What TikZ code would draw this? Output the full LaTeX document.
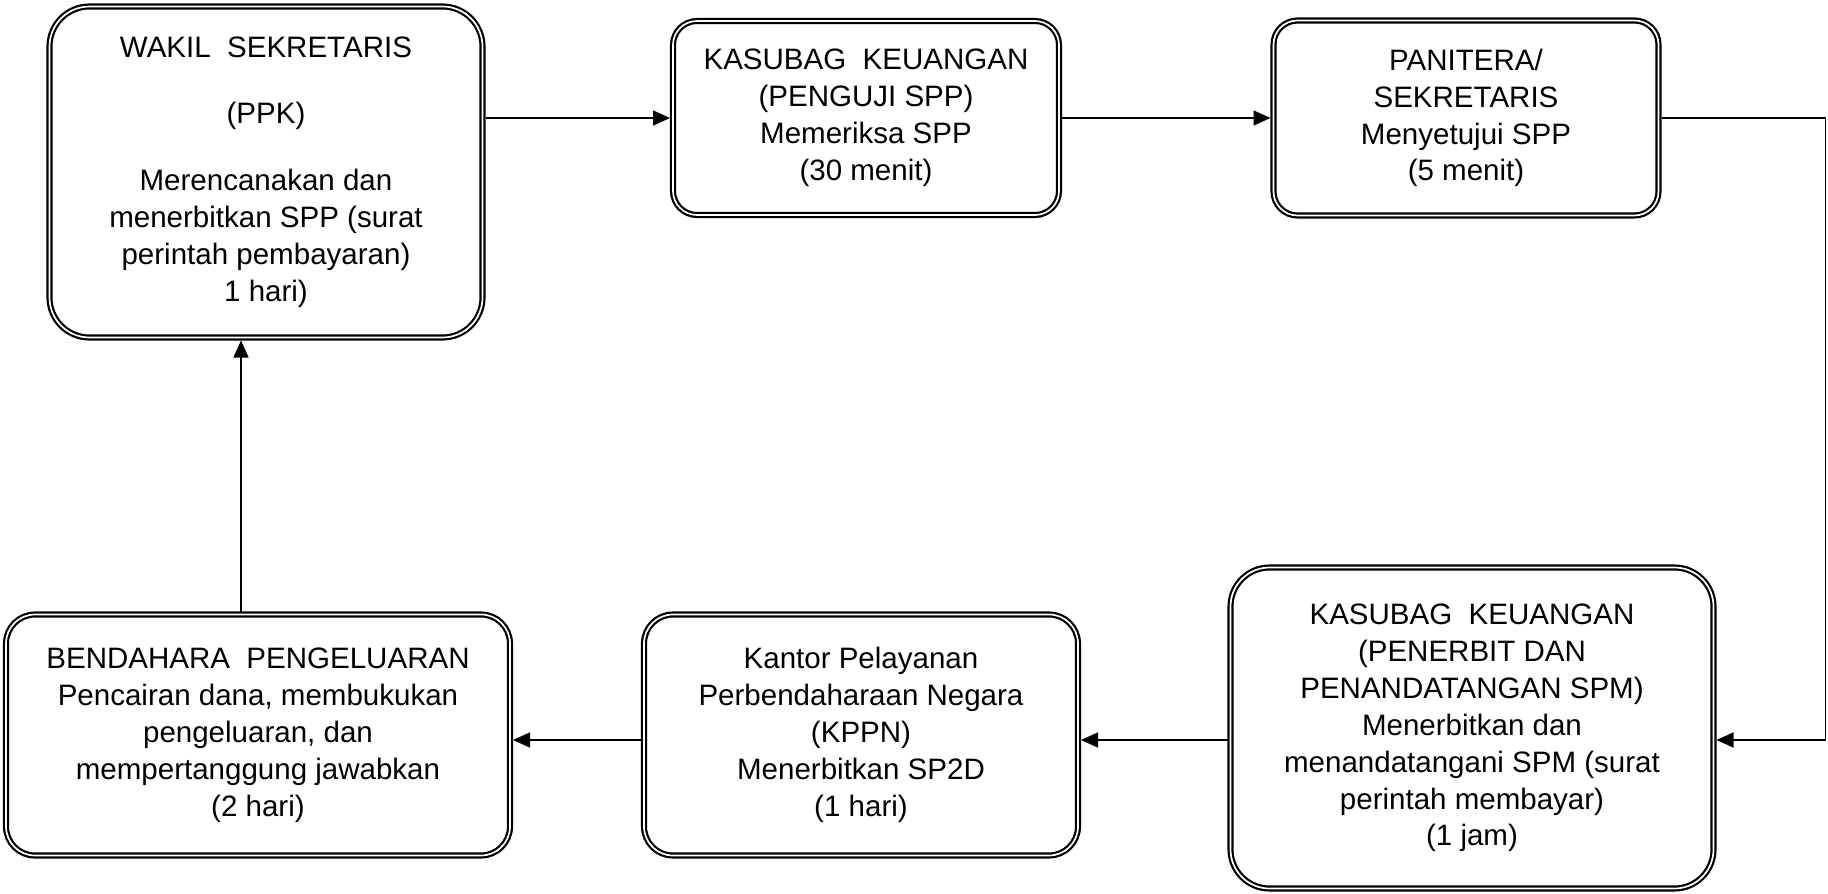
\documentclass[tikz,border=0pt]{standalone}
\usepackage{fontspec}
\setmainfont{Liberation Sans}
\usetikzlibrary{arrows.meta}

\begin{document}
\begin{tikzpicture}[
    x=0.1mm, y=-0.1mm,
    stage/.style={draw, double, line width=0.22mm, double distance=0.17mm,
      outer sep=0.3mm, align=center, inner sep=0pt,
      font=\fontsize{8.4}{10.5}\selectfont},
    flow/.style={draw, line width=0.15mm, -{Triangle[length=1.7mm, width=1.5mm]}}
  ]
  \useasboundingbox (0,0) rectangle (1828,894);

  % Top row
  \node[stage, minimum width=43.3mm, minimum height=33.1mm, rounded corners=4mm] (wakil) at (266,172)
    {WAKIL\ \ SEKRETARIS\\[8.5pt] (PPK)\\[8.5pt] Merencanakan dan\\ menerbitkan SPP (surat\\ perintah pembayaran)\\ 1 hari)};
  \node[stage, minimum width=38.6mm, minimum height=19.4mm, rounded corners=2.4mm] (penguji) at (866,118)
    {KASUBAG\ \ KEUANGAN\\ (PENGUJI SPP)\\ Memeriksa SPP\\ (30 menit)};
  \node[stage, minimum width=38.5mm, minimum height=19.5mm, rounded corners=2.4mm] (panitera) at (1466,118)
    {PANITERA/\\ SEKRETARIS\\ Menyetujui SPP\\ (5 menit)};

  % Bottom row
  \node[stage, minimum width=48.3mm, minimum height=32.1mm, rounded corners=3.9mm] (penerbit) at (1472,728)
    {KASUBAG\ \ KEUANGAN\\ (PENERBIT DAN\\ PENANDATANGAN SPM)\\ Menerbitkan dan\\ menandatangani SPM (surat\\ perintah membayar)\\ (1 jam)};
  \node[stage, minimum width=43.4mm, minimum height=24.1mm, rounded corners=2.9mm] (kppn) at (861,735)
    {Kantor Pelayanan\\ Perbendaharaan Negara\\ (KPPN)\\ Menerbitkan SP2D\\ (1 hari)};
  \node[stage, minimum width=50.4mm, minimum height=24.1mm, rounded corners=2.9mm] (bendahara) at (258,735)
    {BENDAHARA\ \ PENGELUARAN\\ Pencairan dana, membukukan\\ pengeluaran, dan\\ mempertanggung jawabkan\\ (2 hari)};

  % Connectors
  \draw[flow] (penguji.west -| wakil.east) -- (penguji.west);
  \draw[flow] (penguji.east) -- (panitera.west);
  \coordinate (low) at ([yshift=-0.5mm]kppn.east);
  \draw[flow] (panitera.east) -- ++(164,0) |- (penerbit.east |- low);
  \draw[flow] (penerbit.west |- low) -- (low);
  \draw[flow] ([yshift=-0.5mm]kppn.west) -- ([yshift=-0.5mm]bendahara.east);
  \coordinate (back) at ([xshift=-1.7mm]bendahara.north);
  \draw[flow] (back) -- (back |- wakil.south);

\end{tikzpicture}
\end{document}
